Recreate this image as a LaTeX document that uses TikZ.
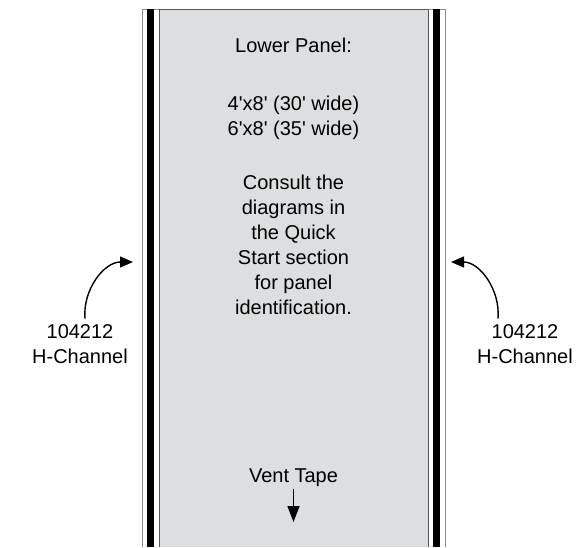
\documentclass[tikz,border=0pt]{standalone}
\usepackage{fontspec}
\setmainfont{Liberation Sans}
\usepackage{tikz}
\usepackage{xcolor}
\usetikzlibrary{arrows.meta}

\definecolor{panelgray}{HTML}{DDDEDF}
\definecolor{edgegray}{HTML}{8C8C8C}
\definecolor{bordergray}{HTML}{555555}

\newcommand{\ft}{\textquotesingle}

\tikzset{
    lbl/.style={align=center, font=\fontsize{20}{25}\selectfont, inner sep=0pt},
    pointer/.style={-{Triangle[length=13pt, width=11pt]}, line width=1.4pt},
}

\begin{document}
\begin{tikzpicture}[x=1pt, y=1pt]
        \useasboundingbox (0,0) rectangle (581,547);

        % panel and the two channels
        \fill[panelgray] (159,0) rectangle (428,537);
        \draw[bordergray, line width=1pt] (159,0) -- (159,537) -- (428,537) -- (428,0);
        \draw[edgegray, line width=0.8pt] (142,0) -- (142,538) -- (159,538);
        \fill[black] (147,0) rectangle (154,538);
        \draw[edgegray, line width=0.8pt] (428,538) -- (445,538) -- (445,0);
        \fill[black] (433,0) rectangle (440,538);

        \node (title) at (293.5, 502) [lbl] {Lower Panel:};
        \node (sizes) at (293.5, 429.5) [lbl] {4\ft x8\ft{} (30\ft{} wide)\\6\ft x8\ft{} (35\ft{} wide)};
        \node (note)  at (293.5, 302.5) [lbl] {Consult the\\diagrams in\\the Quick\\Start section\\for panel\\identification.};
        \node (vent)  at (293.5, 69) [lbl] {Vent Tape};
        \node (lchan) at (80, 202.5) [lbl] {104212\\H-Channel};
        \node (rchan) at (525, 202.5) [lbl] {104212\\H-Channel};

        \coordinate (ventend) at (293.5, 25);
        \coordinate (ltip) at (133, 285);
        \coordinate (rtip) at (451, 285);

        \draw[pointer, -{Triangle[length=16pt, width=12pt]}] ([yshift=-6pt]vent.base) -- (ventend);
        \draw[pointer] ([xshift=5pt, yshift=6pt]lchan.north) to[out=95, in=180] (ltip);
        \draw[pointer] ([xshift=-27pt, yshift=6pt]rchan.north) to[out=85, in=0] (rtip);
    \end{tikzpicture}
\end{document}
